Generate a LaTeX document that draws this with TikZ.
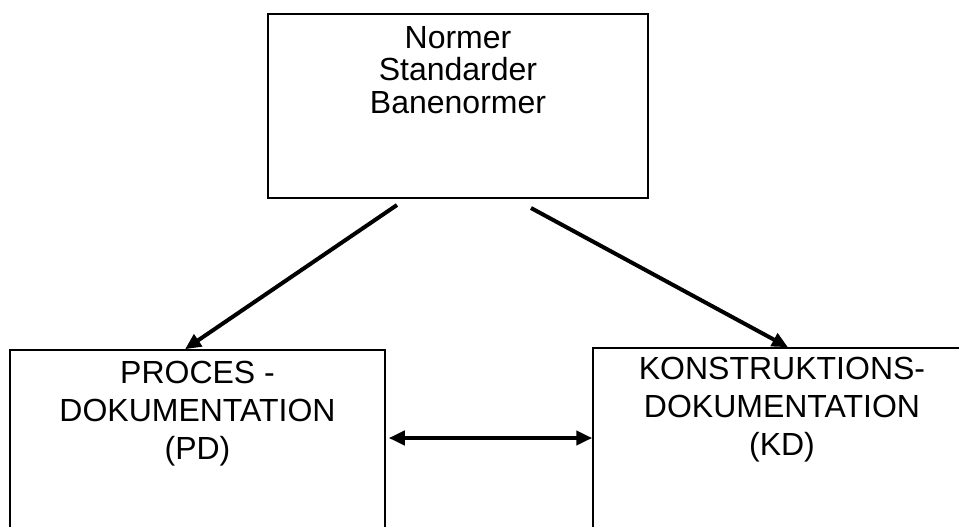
\documentclass[tikz,border=0pt]{standalone}
\usepackage{fontspec}
\setmainfont{Liberation Sans}
\usetikzlibrary{arrows.meta, positioning}

\begin{document}
\begin{tikzpicture}[
        x=1pt, y=-1pt,
        box/.style={draw, line width=1.5pt, rectangle, inner sep=0pt},
        boxtext/.style={inner sep=0pt, align=center},
        link/.style={line width=4pt, -{Triangle[length=16pt, width=14pt]}}
    ]
        \clip (0,0) rectangle (959,527);

        % Kasserne
        \node [box, minimum width=380pt, minimum height=184pt] (norm) at (458,106) {};
        \node [box, minimum width=375pt, minimum height=182pt] (pd) at (197.5,441) {};
        \node [box, minimum width=378pt, minimum height=182pt] (kd) at (782,439) {};

        % Tekst i kasserne
        \node [boxtext, font={\fontsize{32}{32.5}\selectfont}, below=13pt of norm.north] (normtxt)
            {Normer\\Standarder\\Banenormer};
        \node [boxtext, font={\fontsize{32}{38}\selectfont}, below=12pt of pd.north] (pdtxt)
            {PROCES -\\DOKUMENTATION\\(PD)};
        \node [boxtext, font={\fontsize{32}{38}\selectfont}, below=10pt of kd.north] (kdtxt)
            {KONSTRUKTIONS-\\DOKUMENTATION\\(KD)};

        % Pile
        \coordinate (n1) at (397,205);
        \coordinate (n2) at (531,208);
        \draw[link] (n1) -- ([xshift=-12.5pt]pd.north);
        \draw[link] (n2) -- ([xshift=6pt]kd.north);
        \draw[link, {Triangle[length=16pt, width=14pt]}-{Triangle[length=16pt, width=14pt]}]
            ([xshift=3pt, yshift=3pt]pd.east) -- ([yshift=1pt]kd.west);
    \end{tikzpicture}
\end{document}
